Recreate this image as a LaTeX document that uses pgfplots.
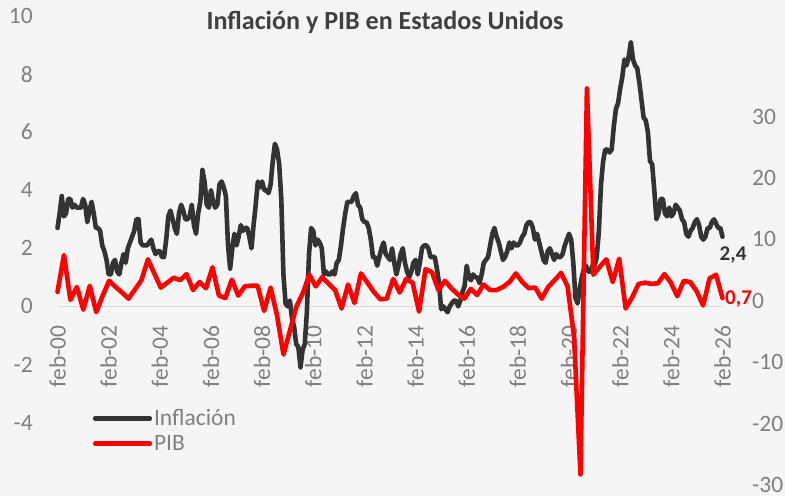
\documentclass[border=0pt]{standalone}
\usepackage{pgfplots}
\pgfplotsset{compat=1.18}
\usepackage{fontspec}
\setmainfont{Carlito}
\definecolor{bg}{RGB}{245,245,245}
\definecolor{infl}{RGB}{51,51,51}
\definecolor{pib}{RGB}{255,0,0}
\definecolor{tickc}{RGB}{128,128,128}
\definecolor{zeroc}{RGB}{217,217,217}
\definecolor{titlec}{RGB}{64,64,64}
\newcommand{\tickfont}{\fontsize{23.5bp}{28bp}\selectfont}
\begin{document}
\begin{tikzpicture}
\fill[bg] (0,0) rectangle (785bp,496bp);
\useasboundingbox (0,0) rectangle (785bp,496bp);
\node[anchor=base, font=\fontsize{26.1bp}{30bp}\selectfont\bfseries, text=titlec, inner sep=0pt] at (385bp,466.7bp) {Inflación y PIB en Estados Unidos};
\begin{axis}[
  at={(57.5bp,9.3bp)}, anchor=south west,
  width=665bp, height=470.7bp, scale only axis,
  xmin=0, xmax=312, ymin=-6.21, ymax=10,
  axis x line=middle, axis y line*=left,
  hide obscured x ticks=false, hide obscured y ticks=false,
  x axis line style={-, draw=zeroc, line width=1.5bp},
  y axis line style={draw=none},
  tick style={draw=none},
  xtick={0,24,48,72,96,120,144,168,192,216,240,264,288,312},
  xticklabels={feb-00,feb-02,feb-04,feb-06,feb-08,feb-10,feb-12,feb-14,feb-16,feb-18,feb-20,feb-22,feb-24,feb-26},
  xticklabel style={rotate=90, anchor=east, inner sep=0pt, font=\tickfont, text=tickc},
  xticklabel shift=16.7bp,
  ytick={-4,-2,0,2,4,6,8,10},
  yticklabels={-4,-2,0,2,4,6,8,10},
  yticklabel style={anchor=east, inner sep=0pt, xshift=-24.5bp, font=\tickfont, text=tickc},
  clip=false,
  legend cell align=left,
  legend image code/.code={\draw[#1, line cap=round] (0bp,0bp) -- (54.6bp,0bp);},
  legend style={draw=none, fill=none, inner sep=0pt, font=\tickfont, text=tickc,
    at={(axis description cs:0.0529,0.168)}, anchor=north west, row sep=4bp,
    /tikz/every even column/.style={column sep=4.4bp}},
]
\addplot[infl, line width=4.6bp, line join=round, line cap=round] coordinates {
(0,2.7)(1,3.2)(2,3.8)(3,3.1)(4,3.2)(5,3.7)(6,3.7)(7,3.4)(8,3.5)(9,3.4)(10,3.4)(11,3.4)
(12,3.7)(13,3.5)(14,2.9)(15,3.3)(16,3.6)(17,3.2)(18,2.7)(19,2.7)(20,2.6)(21,2.1)(22,1.9)(23,1.6)
(24,1.1)(25,1.1)(26,1.5)(27,1.6)(28,1.2)(29,1.1)(30,1.5)(31,1.8)(32,1.5)(33,2.0)(34,2.2)(35,2.4)
(36,2.6)(37,3.0)(38,3.0)(39,2.2)(40,2.1)(41,2.1)(42,2.1)(43,2.2)(44,2.3)(45,2.0)(46,1.8)(47,1.9)
(48,1.9)(49,1.7)(50,1.7)(51,2.3)(52,3.1)(53,3.3)(54,3.0)(55,2.7)(56,2.5)(57,3.2)(58,3.5)(59,3.3)
(60,3.0)(61,3.0)(62,3.1)(63,3.5)(64,2.8)(65,2.5)(66,3.2)(67,3.6)(68,4.7)(69,4.3)(70,3.5)(71,3.4)
(72,4.0)(73,3.6)(74,3.4)(75,3.5)(76,4.2)(77,4.3)(78,4.1)(79,3.8)(80,2.1)(81,1.3)(82,2.0)(83,2.5)
(84,2.1)(85,2.4)(86,2.8)(87,2.6)(88,2.7)(89,2.7)(90,2.4)(91,2.0)(92,2.8)(93,3.5)(94,4.3)(95,4.1)
(96,4.3)(97,4.0)(98,4.0)(99,3.9)(100,4.2)(101,5.0)(102,5.6)(103,5.4)(104,4.9)(105,3.7)(106,1.1)(107,0.1)
(108,0.0)(109,0.2)(110,-0.4)(111,-0.7)(112,-1.3)(113,-1.4)(114,-2.1)(115,-1.5)(116,-1.3)(117,-0.2)(118,1.8)(119,2.7)
(120,2.6)(121,2.1)(122,2.3)(123,2.2)(124,2.0)(125,1.1)(126,1.2)(127,1.1)(128,1.1)(129,1.2)(130,1.1)(131,1.5)
(132,1.6)(133,2.1)(134,2.7)(135,3.2)(136,3.6)(137,3.6)(138,3.6)(139,3.8)(140,3.9)(141,3.5)(142,3.4)(143,3.0)
(144,2.9)(145,2.9)(146,2.7)(147,2.3)(148,1.7)(149,1.7)(150,1.4)(151,1.7)(152,2.0)(153,2.2)(154,1.8)(155,1.7)
(156,1.6)(157,2.0)(158,1.5)(159,1.1)(160,1.4)(161,1.8)(162,2.0)(163,1.5)(164,1.2)(165,1.0)(166,1.2)(167,1.5)
(168,1.6)(169,1.1)(170,1.5)(171,2.0)(172,2.1)(173,2.1)(174,2.0)(175,1.7)(176,1.7)(177,1.7)(178,1.3)(179,0.8)
(180,-0.1)(181,0.0)(182,-0.1)(183,-0.2)(184,0.0)(185,0.1)(186,0.2)(187,0.2)(188,0.0)(189,0.2)(190,0.5)(191,0.7)
(192,1.4)(193,1.0)(194,0.9)(195,1.1)(196,1.0)(197,1.0)(198,0.8)(199,1.1)(200,1.5)(201,1.6)(202,1.7)(203,2.1)
(204,2.5)(205,2.7)(206,2.4)(207,2.2)(208,1.9)(209,1.6)(210,1.7)(211,1.9)(212,2.2)(213,2.0)(214,2.2)(215,2.1)
(216,2.1)(217,2.2)(218,2.4)(219,2.5)(220,2.8)(221,2.9)(222,2.9)(223,2.7)(224,2.3)(225,2.5)(226,2.2)(227,1.9)
(228,1.6)(229,1.5)(230,1.9)(231,2.0)(232,1.8)(233,1.6)(234,1.8)(235,1.7)(236,1.7)(237,1.8)(238,2.1)(239,2.3)
(240,2.5)(241,2.3)(242,1.5)(243,0.3)(244,0.1)(245,0.6)(246,1.0)(247,1.3)(248,1.4)(249,1.2)(250,1.2)(251,1.4)
(252,1.4)(253,1.7)(254,2.6)(255,4.2)(256,5.0)(257,5.4)(258,5.4)(259,5.3)(260,5.4)(261,6.2)(262,6.8)(263,7.0)
(264,7.5)(265,7.9)(266,8.5)(267,8.3)(268,8.6)(269,9.1)(270,8.5)(271,8.3)(272,8.2)(273,7.7)(274,7.1)(275,6.5)
(276,6.4)(277,6.0)(278,5.0)(279,4.9)(280,4.0)(281,3.0)(282,3.2)(283,3.7)(284,3.7)(285,3.2)(286,3.1)(287,3.4)
(288,3.1)(289,3.2)(290,3.5)(291,3.4)(292,3.3)(293,3.0)(294,2.9)(295,2.5)(296,2.4)(297,2.6)(298,2.7)(299,2.9)
(300,3.0)(301,2.8)(302,2.4)(303,2.3)(304,2.4)(305,2.7)(306,2.7)(307,2.9)(308,3.0)(310,2.7)(311,2.7)
(312,2.4)
};
\addlegendentry{Inflación}
\addlegendimage{pib, line width=4.6bp}
\addlegendentry{PIB}
\node[anchor=base west, inner sep=0pt, font=\fontsize{21bp}{25bp}\selectfont\bfseries, text=infl, xshift=-3bp, yshift=-23.4bp] at (axis cs:312,2.4) {2,4};
\end{axis}
\begin{axis}[
  at={(57.5bp,9.3bp)}, anchor=south west,
  width=665bp, height=470.7bp, scale only axis,
  xmin=0, xmax=103, ymin=-30, ymax=46.6,
  axis x line=none, axis y line*=right,
  y axis line style={draw=none},
  tick style={draw=none},
  ytick={-30,-20,-10,0,10,20,30},
  yticklabels={-30,-20,-10,0,10,20,30},
  yticklabel style={anchor=west, inner sep=0pt, xshift=29.5bp, yshift=1.5bp, font=\tickfont, text=tickc},
  clip=false,
]
\addplot[pib, line width=4.6bp, line join=round, line cap=round] coordinates {
(0,1.7)(1,7.7)(2,0.4)(3,2.5)
(4,-1.2)(5,2.7)(6,-1.6)(7,1.1)
(8,3.5)(9,2.5)(10,1.6)(11,0.6)
(12,2.1)(13,3.6)(14,7.0)(15,4.7)
(16,2.4)(17,3.2)(18,4.0)(19,3.6)
(20,4.6)(21,2.0)(22,3.3)(23,2.3)
(24,5.7)(25,1.1)(26,0.7)(27,3.7)
(28,1.1)(29,2.6)(30,2.7)(31,2.7)
(32,-1.4)(33,2.4)(34,-2.1)(35,-8.5)
(36,-4.6)(37,-0.7)(38,1.5)(39,4.5)
(40,2.6)(41,4.1)(42,3.0)(43,2.0)
(44,-1.0)(45,2.9)(46,-0.1)(47,4.7)
(48,3.2)(49,1.7)(50,0.5)(51,0.6)
(52,3.8)(53,1.6)(54,3.8)(55,3.2)
(56,-1.5)(57,5.4)(58,4.9)(59,2.0)
(60,3.5)(61,2.3)(62,1.3)(63,0.6)
(64,2.2)(65,1.2)(66,2.9)(67,2.0)
(68,2.0)(69,2.5)(70,3.3)(71,4.7)
(72,3.3)(73,2.3)(74,2.4)(75,0.6)
(76,2.5)(77,3.6)(78,4.8)(79,2.6)
(80,-5.5)(81,-28.0)(82,34.8)(83,4.5)
(84,5.8)(85,7.0)(86,3.3)(87,7.1)
(88,-1.0)(89,0.8)(90,3.0)(91,3.2)
(92,3.0)(93,3.1)(94,4.6)(95,3.2)
(96,1.0)(97,3.5)(98,3.3)(99,1.8)
(100,-0.5)(101,3.9)(102,4.5)(103,0.7)
};
\node[anchor=base west, inner sep=0pt, font=\fontsize{21bp}{25bp}\selectfont\bfseries, text=pib, xshift=2.5bp, yshift=-6.3bp] at (axis cs:103,0.7) {0,7};
\end{axis}
\end{tikzpicture}
\end{document}
